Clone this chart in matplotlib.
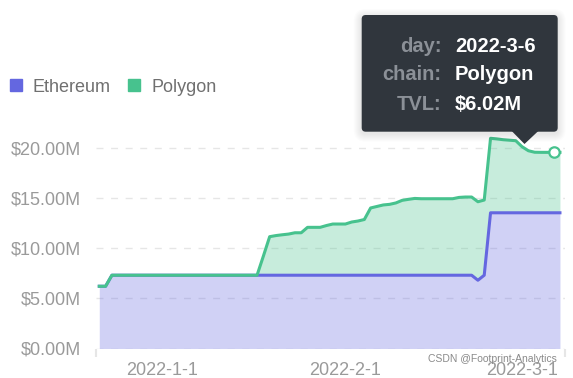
import matplotlib
matplotlib.use("Agg")
import matplotlib.pyplot as plt
import numpy as np
import pandas as pd
from matplotlib.patches import Patch, FancyBboxPatch, Polygon

plt.rcParams.update({
    "font.family": ["Liberation Sans", "DejaVu Sans"],
    "figure.facecolor": "#FFFFFF",
    "axes.facecolor": "#FFFFFF",
})

ETH_COLOR = "#6467e0"
POLY_COLOR = "#47c28e"
LABEL_GRAY = "#9a9a9a"

# categories: daily dates (a couple of January days are missing in the source)
dates = [d for d in pd.date_range("2021-12-22", "2022-03-07")
         if d not in (pd.Timestamp("2022-01-09"), pd.Timestamp("2022-01-23"))]
date_labels = [f"{d.year}-{d.month}-{d.day}" for d in dates]
tick_dates = ["2022-1-1", "2022-2-1", "2022-3-1"]

# TVL in $M, stacked (Ethereum bottom, Polygon on top)
ethereum = [6.2, 6.2] + [7.3] * 58 + [6.8, 7.3] + [13.52] * 12
polygon = ([0.0] * 26 +
           [1.9, 3.84, 3.95, 4.03, 4.1, 4.23, 4.23, 4.77, 4.77, 4.77,
            4.95, 5.1, 5.1, 5.1, 5.3, 5.4, 5.55, 6.7, 6.85, 7.0,
            7.06, 7.2, 7.46, 7.56, 7.65] +
           [7.62] * 6 +
           [7.75, 7.79, 7.79, 7.82, 7.49, 7.42, 7.36, 7.28, 7.23, 7.18,
            6.58, 6.18, 6.03, 6.02, 6.02, 6.02, 6.02])

hover_day = "2022-3-6"
yticks = [0, 5, 10, 15, 20]

x = np.arange(len(dates))
eth = np.array(ethereum)
total = eth + np.array(polygon)

fig = plt.figure(figsize=(5.73, 3.78), dpi=100)
ax = fig.add_axes([96 / 573, 29.5 / 378, 469 / 573, 210.8 / 378])

ax.fill_between(x, 0, eth, color=ETH_COLOR, alpha=0.3, lw=0, zorder=2)
ax.fill_between(x, eth, total, color=POLY_COLOR, alpha=0.3, lw=0, zorder=2)
ax.plot(x, eth, color=ETH_COLOR, lw=2.2, zorder=3, clip_on=False, solid_joinstyle="round")
ax.plot(x, total, color=POLY_COLOR, lw=2.2, zorder=4, clip_on=False, solid_joinstyle="round")

hi = date_labels.index(hover_day)
ax.plot([x[hi]], [total[hi]], "o", ms=7.5, mfc="white", mec=POLY_COLOR, mew=1.6,
        zorder=5, clip_on=False)

ax.set_xlim(-0.52, 73.8)
ax.set_ylim(0, 21)
ax.set_yticks(yticks)
ax.set_yticklabels([f"${v:.2f}M" for v in yticks])
ax.set_xticks([date_labels.index(t) for t in tick_dates])
ax.set_xticklabels(tick_dates)
ax.set_xticks(ax.get_xlim(), minor=True)
ax.tick_params(axis="both", which="major", length=0, labelsize=13, labelcolor=LABEL_GRAY)
ax.tick_params(axis="y", pad=11)
ax.tick_params(axis="x", pad=10)
ax.tick_params(axis="x", which="minor", length=6, width=1.5, color="#e6e6e6")
for s in ax.spines.values():
    s.set_visible(False)
ax.yaxis.grid(True, color="#e6e6e6", lw=1.0, linestyle=(0, (5, 5.5)), zorder=1)
ax.set_axisbelow(True)

fig.legend(handles=[Patch(color=ETH_COLOR, label="Ethereum"),
                    Patch(color=POLY_COLOR, label="Polygon")],
           loc="center left", bbox_to_anchor=(10 / 573, 1 - 87 / 378), ncol=2,
           frameon=False, fontsize=13, labelcolor="#707070", borderpad=0,
           borderaxespad=0, handlelength=0.67, handleheight=0.67,
           handletextpad=0.6, columnspacing=0.95)

# tooltip overlay in pixel coordinates
ov = fig.add_axes([0, 0, 1, 1], zorder=10)
ov.set_xlim(0, 573)
ov.set_ylim(378, 0)
ov.axis("off")
for k in range(1, 9):
    ov.add_patch(FancyBboxPatch((361.7 - k, 15 - k + 2), 196 + 2 * k, 116.7 + 2 * k,
                                boxstyle=f"round,pad=0,rounding_size={4 + k}",
                                fc="#000000", ec="none", alpha=0.012))
ov.add_patch(FancyBboxPatch((361.7, 15), 196, 116.7, boxstyle="round,pad=0,rounding_size=4",
                            fc="#30363d", ec="none"))
ov.add_patch(Polygon([(511.7, 131), (538.3, 131), (524.5, 144)], closed=True,
                     fc="#30363d", ec="none"))
rows = [("day:", hover_day), ("chain:", "Polygon"), ("TVL:", f"${polygon[hi]:.2f}M")]
for (lab, val), yb in zip(rows, [51.7, 80.5, 110]):
    ov.text(441.5, yb, lab, ha="right", va="baseline", fontsize=14.5,
            fontweight="bold", color="#8b9097")
    ov.text(455, yb, val, ha="left", va="baseline", fontsize=14.5,
            fontweight="bold", color="white")

fig.text(557 / 573, 1 - 359 / 378, "CSDN @Footprint-Analytics", ha="right", va="center",
         fontsize=7.5, color="#8a8a8a", zorder=11)

fig.savefig("out.png", dpi=100)
